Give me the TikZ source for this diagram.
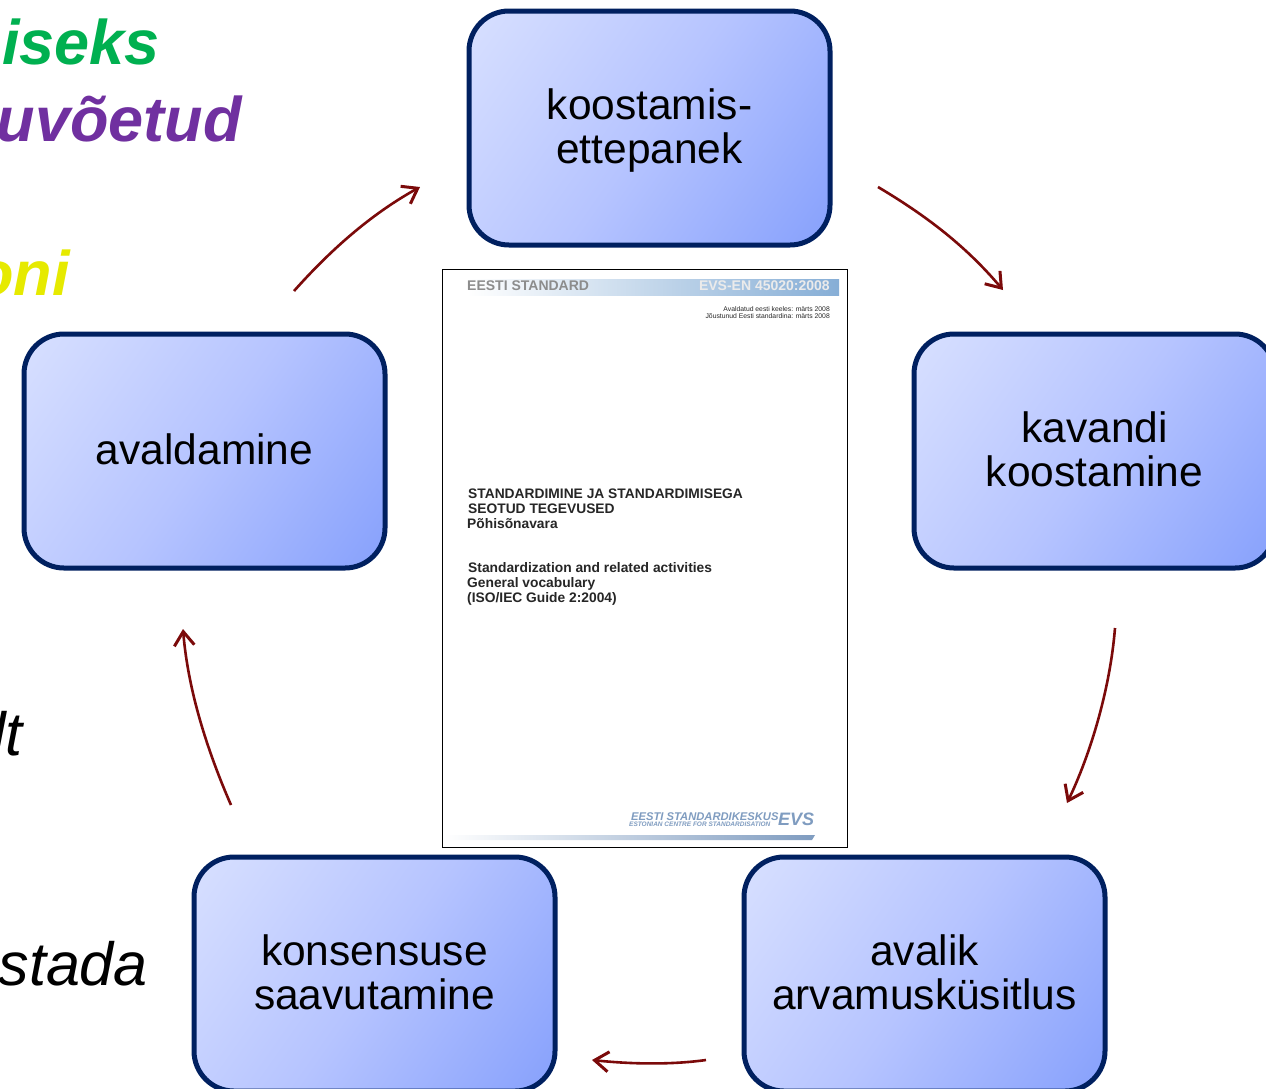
\documentclass[tikz,border=0pt]{standalone}
\usepackage{fontspec}
\setmainfont{Liberation Sans}
\usetikzlibrary{arrows.meta,shadings}
\definecolor{boxedge}{HTML}{002060}
\definecolor{arrowred}{HTML}{7B0A0A}
\definecolor{boxlight}{HTML}{D8E0FF}
\definecolor{boxmid}{HTML}{B6C4FF}
\definecolor{boxdark}{HTML}{86A0FC}
\definecolor{bandblue}{HTML}{86AED6}
\definecolor{logoblue}{HTML}{7F9CC0}
\pgfdeclareverticalshading{boxshade}{100bp}{color(0bp)=(boxdark); color(15bp)=(boxdark); color(50bp)=(boxmid); color(85bp)=(boxlight); color(100bp)=(boxlight)}
\tikzset{
  stagebox/.style={draw=boxedge,line width=5pt,rounded corners=40pt,minimum width=361pt,minimum height=234pt,inner sep=0pt,
    shade,shading=boxshade,shading angle=55},
  stagetext/.style={anchor=base,inner sep=0pt,font=\fontsize{42.5}{44}\selectfont,text=black},
  flowarrow/.style={draw=arrowred,line width=2.6pt,-{Straight Barb[length=14pt,width=20pt,line width=3pt]}},
  sidetext/.style={anchor=base east,inner sep=0pt,font=\fontsize{63}{63}\selectfont\bfseries\itshape},
  sideplain/.style={anchor=base east,inner sep=0pt,font=\fontsize{61}{61}\selectfont\itshape,text=black},
  doctext/.style={anchor=base west,inner sep=0pt,font=\fontsize{13.8}{14}\selectfont\bfseries,text=black!85},
  tinytext/.style={anchor=base east,inner sep=0pt,font=\fontsize{6.8}{7}\selectfont,text=black!85},
}
\begin{document}
\begin{tikzpicture}[x=1pt,y=-1pt]
\useasboundingbox (0,0) rectangle (1266,1088);
\clip (0,0) rectangle (1266,1088);
\fill[white] (0,0) rectangle (1266,1088);
% side texts
\node[sidetext,text={rgb,255:red,0;green,176;blue,80}] (t1) at (160,64) {iseks};
\node[sidetext,text={rgb,255:red,112;green,48;blue,160}] (t2) at (242,141) {uvõetud};
\node[sidetext,text={rgb,255:red,230;green,234;blue,0}] (t3) at (70,295) {oni};
\node[sideplain] (t4) at (23,755) {lt};
\node[sideplain] (t5) at (148,985) {stada};
% stage boxes
\node[stagebox] (a) at (649.5,128) {};
\node[stagebox] (b) at (1094.5,451) {};
\node[stagebox] (c) at (924.5,974) {};
\node[stagebox] (d) at (374.5,974) {};
\node[stagebox] (e) at (204.5,451) {};
\node[stagetext] (a1) at (649.5,119) {koostamis-};
\node[stagetext] (a2) at (649.5,163) {ettepanek};
\node[stagetext] (b1) at (1094.5,442) {kavandi};
\node[stagetext] (b2) at (1094.5,486) {koostamine};
\node[stagetext] (c1) at (924.5,965) {avalik};
\node[stagetext] (c2) at (924.5,1009) {arvamusküsitlus};
\node[stagetext] (d1t) at (374.5,965) {konsensuse};
\node[stagetext] (d2t) at (374.5,1009) {saavutamine};
\node[stagetext] (e1) at (204.5,464) {avaldamine};
% document
\node[draw=black,line width=1pt,fill=white,minimum width=405pt,minimum height=578pt,inner sep=0pt] (doc) at (644.5,558) {};
\node[left color=white,right color=bandblue,minimum width=372pt,minimum height=16pt,inner sep=0pt] (topband) at (653,287) {};
\node[anchor=base west,inner sep=0pt,font=\fontsize{14}{14}\selectfont\bfseries,text=black!45] (h1) at (467,290) {EESTI STANDARD};
\node[anchor=base east,inner sep=0pt,font=\fontsize{14}{14}\selectfont\bfseries,text=white!92!black] (h2) at (830,290) {EVS-EN 45020:2008};
\node[tinytext] (s1) at (830,311) {Avaldatud eesti keeles: märts 2008};
\node[tinytext] (s2) at (830,318) {Jõustunud Eesti standardina: märts 2008};
\node[doctext] (d1) at (468,498) {STANDARDIMINE JA STANDARDIMISEGA};
\node[doctext] (d2) at (468,513) {SEOTUD TEGEVUSED};
\node[doctext] (d3) at (467,528) {Põhisõnavara};
\node[doctext] (d4) at (468,572) {Standardization and related activities};
\node[doctext] (d5) at (467,587) {General vocabulary};
\node[doctext] (d6) at (467,602) {(ISO/IEC Guide 2:2004)};
\node[anchor=base west,inner sep=0pt,font=\fontsize{11.2}{12}\selectfont\bfseries\itshape,text=logoblue] (l1) at (631,820) {EESTI STANDARDIKESKUS};
\node[anchor=base west,inner sep=0pt,font=\fontsize{6.5}{7}\selectfont\bfseries\itshape,text=logoblue] (l2) at (629,826) {ESTONIAN CENTRE FOR STANDARDISATION};
\node[anchor=base west,inner sep=0pt,font=\fontsize{18}{19}\selectfont\bfseries\itshape,text=logoblue] (l3) at (778,825) {EVS};
\shade[left color=white,right color=logoblue] (444,835) -- (815,835) -- (812,840) -- (444,840) -- cycle;
% arrow ends
\coordinate (a1s) at (294,291); \coordinate (a1e) at (420,187);
\coordinate (a2s) at (878,187); \coordinate (a2e) at (1003,290);
\coordinate (a3s) at (1115,628); \coordinate (a3e) at (1067,803);
\coordinate (a4s) at (706,1060); \coordinate (a4e) at (592,1060);
\coordinate (a5s) at (231,805); \coordinate (a5e) at (183,629);
\draw[flowarrow] (a1s) .. controls (335,245) and (375,212) .. (a1e);
\draw[flowarrow] (a2s) .. controls (925,215) and (965,245) .. (a2e);
\draw[flowarrow] (a3s) .. controls (1110,690) and (1090,755) .. (a3e);
\draw[flowarrow] (a4s) .. controls (670,1065) and (630,1064) .. (a4e);
\draw[flowarrow] (a5s) .. controls (207,750) and (188,690) .. (a5e);
\end{tikzpicture}
\end{document}
